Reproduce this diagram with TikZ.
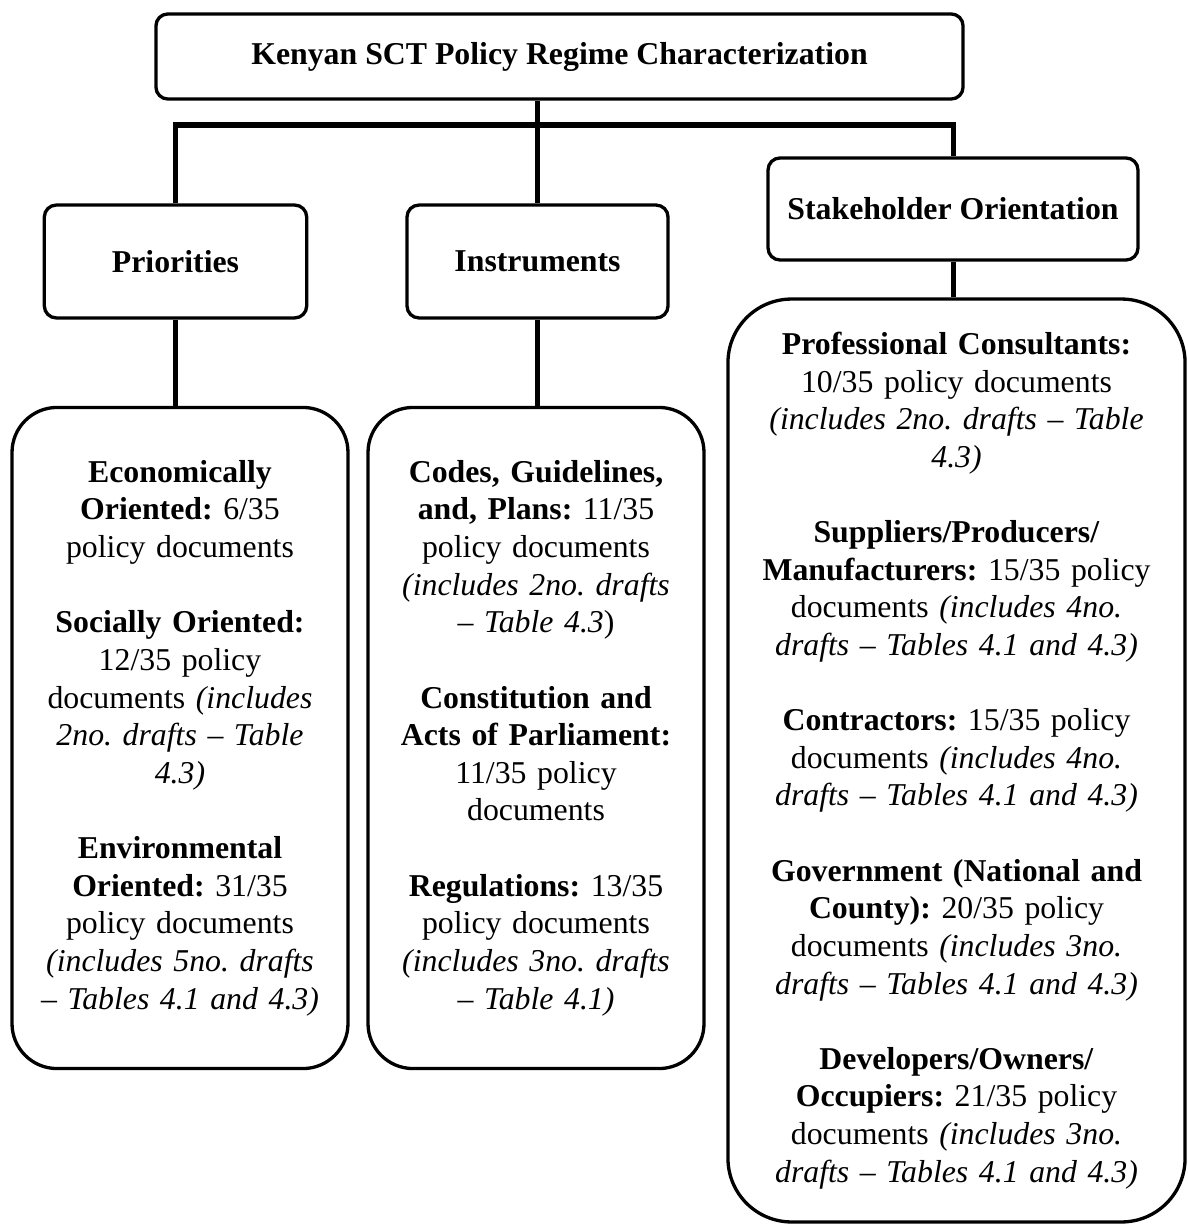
\documentclass[tikz,border=0pt]{standalone}
\usepackage{fontspec}
\setmainfont{Liberation Serif}
\usepackage{tikz}
\usetikzlibrary{positioning, calc}
\frenchspacing

\begin{document}
\begin{tikzpicture}[
    x=0.3774pt, y=-0.3774pt,
    box/.style={draw, rounded corners=4.5pt, line width=1.25pt, font=\fontsize{12}{14.2}\selectfont\bfseries, align=center},
    head/.style={box, minimum width=99pt, minimum height=42.6pt},
    detail/.style={draw, line width=1.25pt, font=\fontsize{12}{14.2}\selectfont\frenchspacing, align=center, inner sep=0pt},
    link/.style={line width=1.9pt}
]
    \useasboundingbox (0,0) rectangle (1187,1227);

    % Top
    \node[box, minimum width=304.6pt, minimum height=32.1pt] (title) at (559.5, 56.5) {Kenyan SCT Policy Regime Characterization};

    % Dimensions
    \node[head] (prio) at (175.5, 261.5) {Priorities};
    \node[head, minimum width=98.5pt] (inst) at (537.5, 261.5) {Instruments};
    \node[box, minimum width=139.6pt, minimum height=38.5pt] (stake) at (953, 209) {Stakeholder Orientation};

    \coordinate (bar) at (537.5, 125);
    \draw[link] (title.south -| inst.north) -- (inst.north);
    \draw[link] (prio.north) |- (bar) -| (stake.north);

    % Priorities
    \node[detail, rounded corners=17pt, minimum width=126.8pt, minimum height=249.5pt, text width=124pt] (prioD) at (180, 738) {%
        \textbf{Economically}\\
        \textbf{Oriented:} 6/35\\
        policy documents\\[14.2pt]
        \textbf{Socially Oriented:}\\
        12/35 policy\\
        documents \textit{(includes}\\
        \textit{2no. drafts -- Table}\\
        \textit{4.3)}\\[14.2pt]
        \textbf{Environmental}\\
        \textbf{Oriented:} 31/35\\
        policy documents\\
        \textit{(includes 5no. drafts}\\
        \textit{-- Tables 4.1 and 4.3)}};

    % Instruments
    \node[detail, rounded corners=17pt, minimum width=126.8pt, minimum height=249.5pt, text width=124pt] (instD) at (536, 738) {%
        \textbf{Codes, Guidelines,}\\
        \textbf{and, Plans:} 11/35\\
        policy documents\\
        \textit{(includes 2no. drafts}\\
        \textit{-- Table 4.3})\\[14.2pt]
        \textbf{Constitution and}\\
        \textbf{Acts of Parliament:}\\
        11/35 policy\\
        documents\\[14.2pt]
        \textbf{Regulations:} 13/35\\
        policy documents\\
        \textit{(includes 3no. drafts}\\
        \textit{-- Table 4.1)}};

    % Stakeholders
    \node[detail, rounded corners=24pt, minimum width=172.5pt, minimum height=348.3pt, text width=168pt] (stakeD) at (956.5, 760.5) {%
        \textbf{Professional Consultants:}\\
        10/35 policy documents\\
        \textit{(includes 2no. drafts -- Table}\\
        \textit{4.3)}\\[14.2pt]
        \textbf{Suppliers/Producers/}\\
        \textbf{Manufacturers:} 15/35 policy\\
        documents \textit{(includes 4no.}\\
        \textit{drafts -- Tables 4.1 and 4.3)}\\[14.2pt]
        \textbf{Contractors:} 15/35 policy\\
        documents \textit{(includes 4no.}\\
        \textit{drafts -- Tables 4.1 and 4.3)}\\[14.2pt]
        \textbf{Government (National and}\\
        \textbf{County):} 20/35 policy\\
        documents \textit{(includes 3no.}\\
        \textit{drafts -- Tables 4.1 and 4.3)}\\[14.2pt]
        \textbf{Developers/Owners/}\\
        \textbf{Occupiers:} 21/35 policy\\
        documents \textit{(includes 3no.}\\
        \textit{drafts -- Tables 4.1 and 4.3)}};

    \draw[link] (prio.south) -- (prio.south |- prioD.north);
    \draw[link] (inst.south) -- (inst.south |- instD.north);
    \draw[link] (stake.south) -- (stake.south |- stakeD.north);
\end{tikzpicture}
\end{document}
